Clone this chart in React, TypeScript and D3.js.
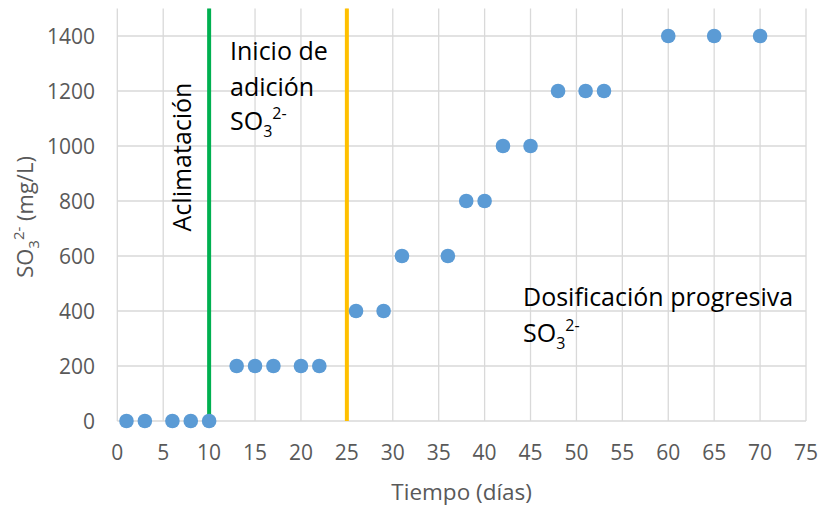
import React from "react";
import * as d3 from "d3";

const days = [1, 3, 6, 8, 10, 13, 15, 17, 20, 22, 26, 29, 31, 36, 38, 40, 42, 45, 48, 51, 53, 60, 65, 70];
const so3 = [0, 0, 0, 0, 0, 200, 200, 200, 200, 200, 400, 400, 600, 600, 800, 800, 1000, 1000, 1200, 1200, 1200, 1400, 1400, 1400];
const xTicks = d3.range(0, 80, 5);
const yTicks = d3.range(0, 1600, 200);
const phaseLines = [
  { day: 10, color: "#00B050" },
  { day: 25, color: "#FFC000" },
];

const W = 823, H = 508;
const FONT = "'Open Sans', 'Noto Sans', sans-serif";

export default function App() {
  const x = d3.scaleLinear().domain([0, 75]).range([117.3, 806]);
  const y = d3.scaleLinear().domain([0, 1500]).range([421, 8.5]);
  const gridColor = "#D9D9D9";
  const tickColor = "#595959";
  return (
    <svg width={W} height={H} style={{ position: "absolute", left: 0, top: 0, background: "#fff" }} fontFamily={FONT}>
      {xTicks.map((t) => (
        <line key={"vx" + t} x1={x(t)} x2={x(t)} y1={y(1500)} y2={y(0)} stroke={gridColor} strokeWidth={1.3} />
      ))}
      {yTicks.map((t) => (
        <line key={"hy" + t} x1={x(0)} x2={x(75)} y1={y(t)} y2={y(t)} stroke={gridColor} strokeWidth={1.3} />
      ))}
      {xTicks.map((t) => (
        <text key={"xt" + t} x={x(t)} y={460} textAnchor="middle" fontSize={21} fill={tickColor}>{t}</text>
      ))}
      {yTicks.map((t) => (
        <text key={"yt" + t} x={95} y={y(t) + 7.5} textAnchor="end" fontSize={21} fill={tickColor}>{t}</text>
      ))}
      <text x={x(37.5)} y={500} textAnchor="middle" fontSize={22.5} fill={tickColor}>Tiempo (días)</text>
      <text transform={`translate(33,217) rotate(-90)`} textAnchor="middle" fontSize={22} fill={tickColor}>
        SO<tspan fontSize={15} dy={6}>3</tspan><tspan fontSize={15} dy={-15}>2-</tspan><tspan dy={9}> (mg/L)</tspan>
      </text>
      {phaseLines.map((p) => (
        <line key={"pl" + p.day} x1={x(p.day)} x2={x(p.day)} y1={y(1500)} y2={y(0)} stroke={p.color} strokeWidth={4} />
      ))}
      {days.map((d, i) => (
        <circle key={"pt" + i} cx={x(d)} cy={y(so3[i])} r={7.3} fill="#5B9BD5" />
      ))}
      <text transform={`translate(191,157) rotate(-90)`} textAnchor="middle" fontSize={25} fill="#000">Aclimatación</text>
      <text x={230} y={60} fontSize={25} fill="#000">Inicio de</text>
      <text x={230} y={96} fontSize={25} fill="#000">adición</text>
      <text x={230} y={130} fontSize={25} fill="#000">
        SO<tspan fontSize={16} dy={7}>3</tspan><tspan fontSize={16} dy={-18}>2-</tspan>
      </text>
      <text x={523} y={306} fontSize={25} fill="#000">Dosificación progresiva</text>
      <text x={523} y={342} fontSize={25} fill="#000">
        SO<tspan fontSize={16} dy={7}>3</tspan><tspan fontSize={16} dy={-18}>2-</tspan>
      </text>
    </svg>
  );
}
